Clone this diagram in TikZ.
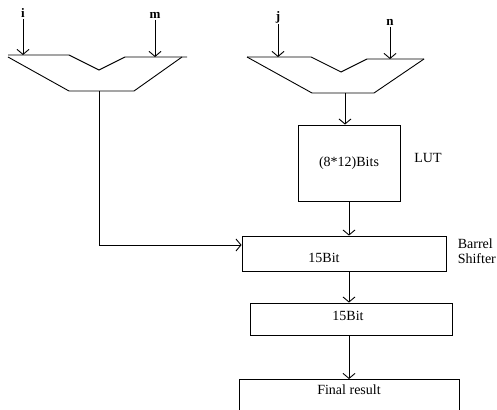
\documentclass[tikz,border=0pt]{standalone}
\usepackage{fontspec}
\setmainfont{Liberation Serif}
\usetikzlibrary{positioning}
\usetikzlibrary{arrows.meta}
\tikzset{
	every node/.style = {font=\fontsize{14}{15}\selectfont},
	blk/.style = {draw, line width=0.9pt, inner sep=0pt},
	sig/.style = {-{Straight Barb[length=5pt,width=12pt]}, line width=0.9pt},
	inlbl/.style = {font=\fontsize{13}{13}\selectfont\bfseries, inner sep=1pt}
}

\begin{document}
\begin{tikzpicture}[x=1pt, y=-1pt, line width=0.9pt]
		\clip (0,0) rectangle (497,409);
		% multiplexers
		\draw (8,55) -- (69,55) -- (99,70) -- (125,57) -- (187,57);
		\draw (8,57) -- (69,91) -- (134,91) -- (182,57);
		\coordinate (muxa-out) at (99,91);
		
		\draw (247,57) -- (311,57) -- (341,72) -- (367,59) -- (424,59);
		\draw (247,57) -- (312,93) -- (374,93) -- (424,59);
		\coordinate (muxb-out) at (345,93);
		
		% inputs
		\node[inlbl] (i) at (23,13) {i};
		\node[inlbl] (m) at (155,15) {m};
		\node[inlbl] (j) at (278,17) {j};
		\node[inlbl] (n) at (390,22) {n};
		\coordinate (i-in) at (23,55);
		\coordinate (m-in) at (155,57);
		\coordinate (j-in) at (278,57);
		\coordinate (n-in) at (390,59);
		\draw[sig] (i) -- (i-in);
		\draw[sig] (m) -- (m-in);
		\draw[sig] (j) -- (j-in);
		\draw[sig] (n) -- (n-in);
		
		% blocks
		\node[blk, minimum width=102pt, minimum height=76pt] (lut) at (349,163) {(8*12)Bits};
		\node (lutlbl) at (428,158) {LUT};
		
		\node[blk, minimum width=204pt, minimum height=35pt] (bs) at (344,253.5) {};
		\node (bstxt) at (324,258) {15Bit};
		\node[anchor=west, align=left] (bslbl) at (454,251) {Barrel\\Shifter};
		
		\node[blk, minimum width=202pt, minimum height=32pt] (bits) at (351,319) {};
		\node (bitstxt) at (348,316) {15Bit};
		
		\node[blk, anchor=north, minimum width=220pt, text height=10pt, text depth=22pt, inner ysep=5pt] (res) at (349,379) {Final result};
		
		% connections
		\draw[sig] (muxa-out) |- ([yshift=8.5pt]bs.west);
		\draw[sig] (muxb-out) -- (muxb-out |- lut.north);
		\draw[sig] (lut.south) -- (lut.south |- bs.north);
		\draw[sig] (lut.south |- bs.south) -- (lut.south |- bits.north);
		\draw[sig] (bits.south -| lut.south) -- (lut.south |- res.north);
	\end{tikzpicture}
\end{document}
